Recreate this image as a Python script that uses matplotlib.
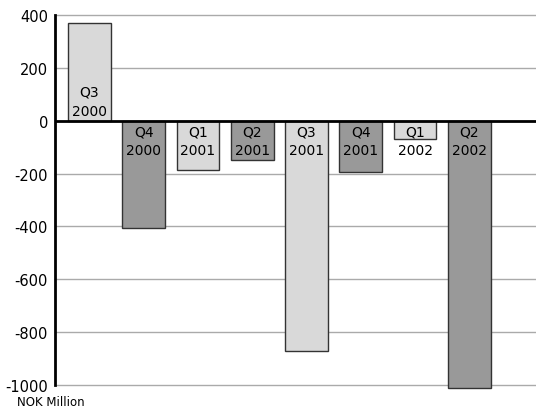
import matplotlib
matplotlib.use('Agg')
import matplotlib.pyplot as plt

# Quarterly values (NOK million)
quarters = ['Q3\n2000', 'Q4\n2000', 'Q1\n2001', 'Q2\n2001',
            'Q3\n2001', 'Q4\n2001', 'Q1\n2002', 'Q2\n2002']
values = [370, -405, -185, -150, -870, -195, -70, -1010]
yticks = [-1000, -800, -600, -400, -200, 0, 200, 400]

light = '#d9d9d9'
dark = '#999999'
colors = [light if i % 2 == 0 else dark for i in range(len(values))]

fig = plt.figure(figsize=(5.36, 4.10), dpi=100)
ax = fig.add_axes([55 / 536, 24 / 410, 481 / 536, 370 / 410])

x = list(range(len(values)))
ax.bar(x, values, width=0.79, color=colors, edgecolor='#333333',
       linewidth=1, zorder=3, clip_on=False)

# Labels inside the bars, next to the zero line
for xi, v, lab in zip(x, values, quarters):
    if v >= 0:
        ax.annotate(lab, (xi, 0), xytext=(0, 2), textcoords='offset points',
                    ha='center', va='bottom', fontsize=10, zorder=5,
                    linespacing=1.45)
    else:
        ax.annotate(lab, (xi, 0), xytext=(0, -2.5), textcoords='offset points',
                    ha='center', va='top', fontsize=10, zorder=5,
                    linespacing=1.4)

ax.set_xlim(-0.636, 8.23)
ax.set_ylim(-1000, 400)
ax.set_yticks(yticks)
ax.set_yticklabels([str(t) for t in yticks], fontsize=10.5)
ax.set_xticks([])
ax.tick_params(axis='y', length=0, pad=5)

# Horizontal grid lines (unclipped so the edge ones show fully)
for t in yticks:
    if t != 0:
        ax.axhline(t, color='#aaaaaa', linewidth=1, zorder=1, clip_on=False)
ax.axhline(0, color='black', linewidth=2, zorder=4)

for side in ['top', 'right', 'bottom']:
    ax.spines[side].set_visible(False)
ax.spines['left'].set_linewidth(2)
ax.spines['left'].set_zorder(4)

fig.text(17 / 536, 1 - 403 / 410, 'NOK Million', fontsize=8.5, va='center')

fig.savefig('out.png', dpi=100)
